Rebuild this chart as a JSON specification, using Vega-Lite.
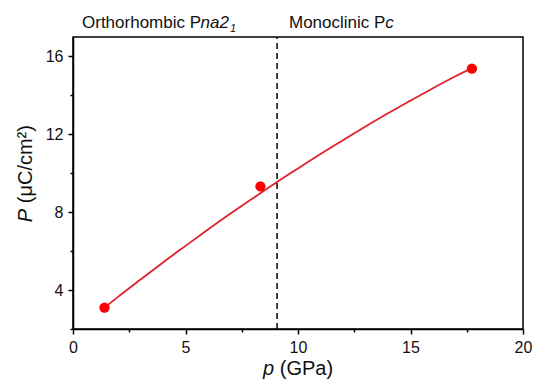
{
  "$schema": "https://vega.github.io/schema/vega-lite/v6.json",
  "autosize": {"type": "none"},
  "padding": {"left": 73, "top": 37, "right": 10, "bottom": 54},
  "width": 450,
  "height": 292,
  "background": "white",
  "config": {
    "view": {"stroke": "black", "strokeWidth": 1.5},
    "font": "Liberation Sans",
    "axis": {
      "grid": false,
      "domainColor": "black",
      "domainWidth": 1.5,
      "tickColor": "black",
      "tickWidth": 1.5,
      "labelFont": "Liberation Sans",
      "labelFontSize": 16,
      "labelColor": "#111",
      "labelPadding": 5
    }
  },
  "datasets": {
    "pts": [
      {"p": 1.4, "P": 3.1},
      {"p": 8.33, "P": 9.33},
      {"p": 17.73, "P": 15.37}
    ],
    "fit": [
      {"p": 1.4, "P": 3.1},
      {"p": 2, "P": 3.65},
      {"p": 3, "P": 4.54},
      {"p": 4, "P": 5.42},
      {"p": 5, "P": 6.27},
      {"p": 6, "P": 7.11},
      {"p": 7, "P": 7.93},
      {"p": 8, "P": 8.72},
      {"p": 9, "P": 9.5},
      {"p": 10, "P": 10.25},
      {"p": 11, "P": 10.99},
      {"p": 12, "P": 11.7},
      {"p": 13, "P": 12.4},
      {"p": 14, "P": 13.08},
      {"p": 15, "P": 13.73},
      {"p": 16, "P": 14.37},
      {"p": 17, "P": 14.98},
      {"p": 17.73, "P": 15.4}
    ],
    "boundary": [{"p": 9.07, "P": 2, "P2": 17}],
    "normalText": [
      {"p": 0.4, "P": 17.45, "text": "Orthorhombic P"},
      {"p": 9.6, "P": 17.45, "text": "Monoclinic P"}
    ],
    "italicText": [
      {"p": 5.67, "P": 17.45, "text": "na2"},
      {"p": 13.88, "P": 17.45, "text": "c"}
    ],
    "subText": [{"p": 6.98, "P": 17.25, "text": "1"}],
    "xTitleItalic": [{"p": 8.44, "P": -0.36, "text": "p"}],
    "xTitleNormal": [{"p": 9.19, "P": -0.36, "text": "(GPa)"}],
    "yTitleItalic": [{"p": -1.84, "P": 7.49, "text": "P"}],
    "yTitleNormal": [{"p": -1.84, "P": 8.46, "text": "(μC/cm²)"}]
  },
  "encoding": {
    "x": {
      "field": "p",
      "type": "quantitative",
      "title": null,
      "scale": {"domain": [0, 20], "nice": false, "zero": false},
      "axis": {
        "values": [0, 2.5, 5, 7.5, 10, 12.5, 15, 17.5, 20],
        "labelExpr": "datum.value % 5 === 0 ? datum.label : ''",
        "tickSize": {"condition": {"test": "datum.value % 5 === 0", "value": 5}, "value": 3},
        "labelFlush": false,
        "labelOverlap": false
      }
    },
    "y": {
      "field": "P",
      "type": "quantitative",
      "title": null,
      "scale": {"domain": [2, 17], "nice": false, "zero": false},
      "axis": {
        "values": [2, 4, 6, 8, 10, 12, 14, 16],
        "labelExpr": "datum.value % 4 === 0 ? datum.label : ''",
        "tickSize": {"condition": {"test": "datum.value % 4 === 0", "value": 5}, "value": 3},
        "labelFlush": false,
        "labelOverlap": false
      }
    }
  },
  "layer": [
    {
      "data": {"name": "boundary"},
      "mark": {"type": "rule", "color": "black", "strokeWidth": 1.5, "strokeDash": [6, 4]},
      "encoding": {
        "y2": {"field": "P2"}
      }
    },
    {
      "data": {"name": "fit"},
      "mark": {"type": "line", "color": "#e0202a", "strokeWidth": 1.8, "interpolate": "monotone"}
    },
    {
      "data": {"name": "pts"},
      "mark": {"type": "circle", "color": "#ff0000", "opacity": 1, "size": 105}
    },
    {
      "data": {"name": "normalText"},
      "mark": {"type": "text", "align": "left", "baseline": "alphabetic", "fontSize": 17, "font": "Liberation Sans", "color": "#111"},
      "encoding": {"text": {"field": "text"}}
    },
    {
      "data": {"name": "italicText"},
      "mark": {"type": "text", "align": "left", "baseline": "alphabetic", "fontSize": 17, "fontStyle": "italic", "font": "Liberation Sans", "color": "#111"},
      "encoding": {"text": {"field": "text"}}
    },
    {
      "data": {"name": "subText"},
      "mark": {"type": "text", "align": "left", "baseline": "alphabetic", "fontSize": 11, "fontStyle": "italic", "font": "Liberation Sans", "color": "#111"},
      "encoding": {"text": {"field": "text"}}
    },
    {
      "data": {"name": "xTitleItalic"},
      "mark": {"type": "text", "align": "left", "baseline": "alphabetic", "fontSize": 20, "fontStyle": "italic", "font": "Liberation Sans", "color": "#111"},
      "encoding": {"text": {"field": "text"}}
    },
    {
      "data": {"name": "xTitleNormal"},
      "mark": {"type": "text", "align": "left", "baseline": "alphabetic", "fontSize": 20, "font": "Liberation Sans", "color": "#111"},
      "encoding": {"text": {"field": "text"}}
    },
    {
      "data": {"name": "yTitleItalic"},
      "mark": {"type": "text", "align": "left", "baseline": "alphabetic", "angle": 270, "fontSize": 20, "fontStyle": "italic", "font": "Liberation Sans", "color": "#111"},
      "encoding": {"text": {"field": "text"}}
    },
    {
      "data": {"name": "yTitleNormal"},
      "mark": {"type": "text", "align": "left", "baseline": "alphabetic", "angle": 270, "fontSize": 20, "font": "Liberation Sans", "color": "#111"},
      "encoding": {"text": {"field": "text"}}
    }
  ]
}
